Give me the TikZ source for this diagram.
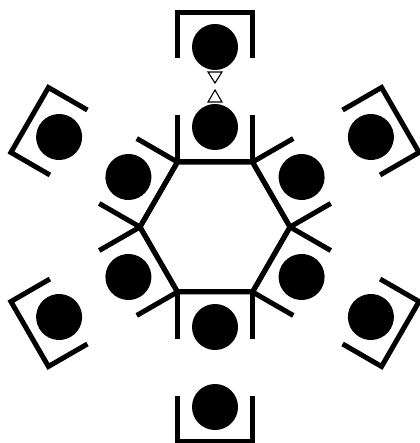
\documentclass[tikz,border=0pt]{standalone}
\begin{document}
\begin{tikzpicture}[x=1bp,y=1bp,
  chairline/.style={line width=5bp, line join=miter, line cap=butt},
  seat/.style={fill=black},
  marker/.style={line width=1.1bp, line join=miter}]
\useasboundingbox (-215,-216) rectangle (204,227);
% table
\draw[chairline] (0:75) -- (60:75) -- (120:75) -- (180:75) -- (240:75) -- (300:75) -- cycle;
% chairs
\foreach \a in {30,90,150,210,270,330} {
  \begin{scope}[rotate=\a]
    \draw[chairline] (112,-37.5) -- (65,-37.5) -- (65,37.5) -- (112,37.5);
    \fill[seat] (100,0) circle (23);
    \draw[chairline] (169,-37.5) -- (214,-37.5) -- (214,37.5) -- (169,37.5);
    \fill[seat] (180,0) circle (23);
  \end{scope}
}
% small triangles
\draw[marker] (-7,155) -- (7,155) -- (0,144) -- cycle;
\draw[marker] (-7,125) -- (7,125) -- (0,137) -- cycle;
\end{tikzpicture}
\end{document}
